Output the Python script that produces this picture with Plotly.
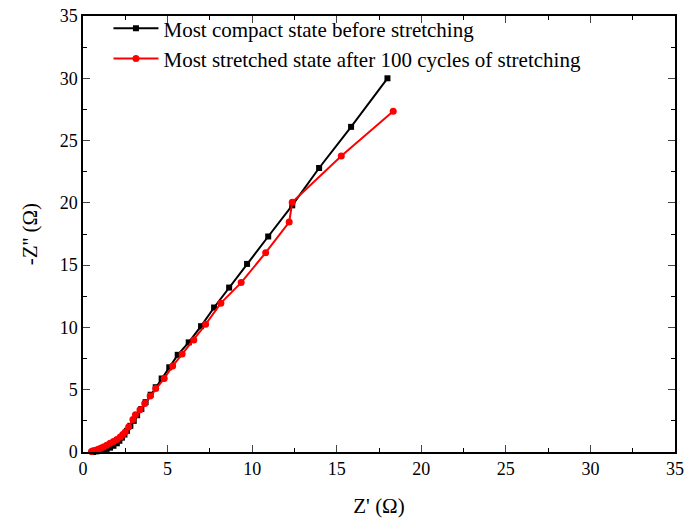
import plotly.graph_objects as go

# Data
compact_x = [0.6, 0.8, 1.0, 1.2, 1.4, 1.6, 1.8, 2.0, 2.15, 2.3, 2.45, 2.6, 2.8, 3.0, 3.2, 3.45,
             3.7, 4.0, 4.3, 4.65, 5.1, 5.6, 6.25, 6.98, 7.75, 8.64, 9.7, 10.95, 12.37, 13.96, 15.85, 18.0]
compact_y = [0.0, 0.05, 0.1, 0.17, 0.25, 0.35, 0.5, 0.7, 0.9, 1.15, 1.4, 1.7, 2.1, 2.5, 2.95, 3.45,
             4.0, 4.6, 5.2, 5.9, 6.8, 7.8, 8.8, 10.1, 11.6, 13.2, 15.1, 17.3, 19.8, 22.8, 26.1, 30.0]

stretched_x = [0.5, 0.6, 0.75, 0.9, 1.05, 1.2, 1.4, 1.6, 1.8, 2.0, 2.2, 2.35, 2.5, 2.7, 2.95, 3.1,
               3.37, 3.65, 3.97, 4.3, 4.8, 5.3, 5.86, 6.55, 7.25, 8.15, 9.35, 10.8, 12.19, 12.37, 15.27, 18.34]
stretched_y = [0.05, 0.1, 0.15, 0.22, 0.3, 0.4, 0.55, 0.7, 0.85, 1.0, 1.2, 1.4, 1.6, 2.0, 2.6, 3.0,
               3.4, 3.9, 4.5, 5.1, 5.9, 6.9, 7.86, 9.0, 10.25, 11.95, 13.6, 16.0, 18.46, 20.05, 23.76, 27.35]

names = ["Most compact state before stretching", "Most stretched state after 100 cycles of stretching"]
tick_vals = [0, 5, 10, 15, 20, 25, 30, 35]

font_family = "Liberation Serif"

fig = go.Figure()
fig.add_trace(go.Scatter(x=compact_x, y=compact_y, mode="lines+markers", name=names[0],
                         line=dict(color="black", width=2),
                         marker=dict(symbol="square", size=6, color="black"),
                         cliponaxis=False))
fig.add_trace(go.Scatter(x=stretched_x, y=stretched_y, mode="lines+markers", name=names[1],
                         line=dict(color="red", width=2),
                         marker=dict(symbol="circle", size=7, color="red"),
                         cliponaxis=False))

axis_common = dict(
    range=[0, 35], tickvals=tick_vals, ticks="inside", ticklen=7, tickwidth=1.2,
    showline=True, linecolor="black", linewidth=1.5, mirror="ticks",
    showgrid=False, zeroline=False,
    tickfont=dict(family=font_family, size=18, color="black"),
    minor=dict(ticks="inside", dtick=2.5, ticklen=4, tickcolor="black"),
)

fig.update_xaxes(**axis_common, title=dict(text="Z' (Ω)", font=dict(family=font_family, size=21, color="black"), standoff=20))
fig.update_yaxes(**axis_common, title=dict(text="-Z'' (Ω)", font=dict(family=font_family, size=21, color="black"), standoff=16))

fig.update_layout(
    width=684, height=523,
    margin=dict(l=83, r=9, t=16, b=71, autoexpand=False),
    paper_bgcolor="white", plot_bgcolor="white",
    font=dict(family=font_family, color="black"),
    legend=dict(x=0.043, y=1.018, xanchor="left", yanchor="top",
                bgcolor="rgba(0,0,0,0)", font=dict(family=font_family, size=21, color="black"),
                tracegroupgap=0, itemwidth=45),
    showlegend=True,
)

fig.write_html("out.html")
